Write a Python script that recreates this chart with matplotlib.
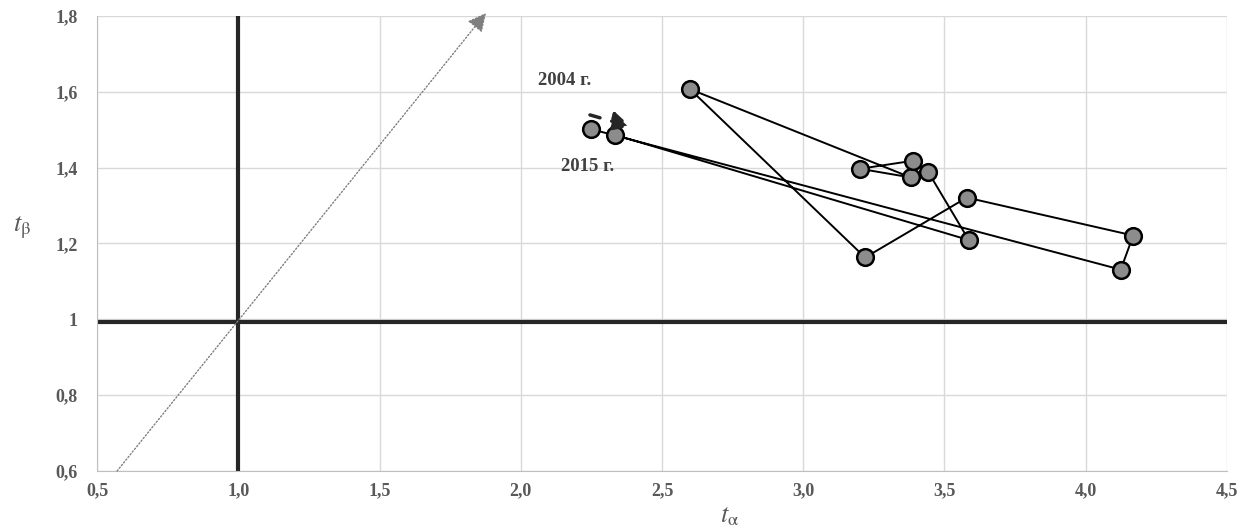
import matplotlib.pyplot as plt

plt.rcParams['font.family'] = ['Liberation Serif', 'DejaVu Serif']
plt.rcParams['mathtext.fontset'] = 'stix'

# trajectory by year, 2004 -> 2015
years = [2004, 2005, 2006, 2007, 2008, 2009, 2010, 2011, 2012, 2013, 2014, 2015]
t_alpha = [2.247, 4.124, 4.168, 3.579, 3.219, 2.599, 3.381, 3.201, 3.387, 3.442, 3.586, 2.335]
t_beta = [1.502, 1.131, 1.221, 1.321, 1.163, 1.607, 1.374, 1.397, 1.418, 1.389, 1.209, 1.486]

x_ticks = [0.5, 1.0, 1.5, 2.0, 2.5, 3.0, 3.5, 4.0, 4.5]
x_tick_labels = ['0,5', '1,0', '1,5', '2,0', '2,5', '3,0', '3,5', '4,0', '4,5']
y_ticks = [0.6, 0.8, 1.0, 1.2, 1.4, 1.6, 1.8]
y_tick_labels = ['0,6', '0,8', '1', '1,2', '1,4', '1,6', '1,8']

# threshold lines and the diagonal direction
v_line = 1.0
h_line = 0.992
diag_start = (0.571, 0.6)
diag_end = (1.877, 1.808)

fig = plt.figure(figsize=(12.41, 5.32), dpi=100)
ax = fig.add_axes([0.0782, 0.1147, 0.9105, 0.8553])

ax.set_xlim(0.5, 4.5)
ax.set_ylim(0.6, 1.8)
ax.set_xticks(x_ticks)
ax.set_xticklabels(x_tick_labels)
ax.set_yticks(y_ticks)
ax.set_yticklabels(y_tick_labels)
ax.grid(True, color='#d9d9d9', linewidth=1.0)
ax.set_axisbelow(True)
for s in ax.spines.values():
    s.set_visible(False)
ax.spines['left'].set_visible(True)
ax.spines['bottom'].set_visible(True)
ax.spines['left'].set_color('#bfbfbf')
ax.spines['bottom'].set_color('#bfbfbf')
ax.tick_params(length=0, labelsize=13, labelcolor='#595959')
ax.tick_params(axis='x', pad=8)
ax.tick_params(axis='y', pad=14)
for lab in ax.get_xticklabels() + ax.get_yticklabels():
    lab.set_fontweight('bold')

ax.axvline(v_line, color='#262626', linewidth=3.0, zorder=2)
ax.axhline(h_line, color='#262626', linewidth=3.0, zorder=2)

# dotted diagonal with arrowhead
ax.annotate('', xy=diag_end, xytext=diag_start, annotation_clip=False,
            arrowprops=dict(arrowstyle='-|>', color='#7f7f7f', linestyle=(0, (1, 1.5)),
                            linewidth=1.0, mutation_scale=28, shrinkA=0, shrinkB=0))

ax.plot(t_alpha, t_beta, color='black', linewidth=1.4, marker='o', markersize=12,
        markerfacecolor='#8c8c8c', markeredgecolor='black', markeredgewidth=1.8, zorder=4)

ax.text(2.157, 1.631, '2004 г.', ha='center', va='center', fontsize=13.5,
        fontweight='bold', color='#404040')
ax.text(2.238, 1.402, '2015 г.', ha='center', va='center', fontsize=13.5,
        fontweight='bold', color='#404040')

# direction marker next to the start point
ax.annotate('', xy=(2.39, 1.508), xytext=(2.245, 1.539),
            arrowprops=dict(arrowstyle='-|>', color='#262626', linestyle=(0, (3, 3.5)),
                            linewidth=2.5, mutation_scale=28, shrinkA=0, shrinkB=0), zorder=5)

ax.set_xlabel(r'$t_{\mathrm{α}}$', fontsize=19, color='#595959')
ax.xaxis.set_label_coords(0.56, -0.075)
ax.set_ylabel(r'$t_{\mathrm{β}}$', fontsize=19, color='#595959', rotation=0, va='center')
ax.yaxis.set_label_coords(-0.066, 0.534)

fig.savefig('out.png', dpi=100)
